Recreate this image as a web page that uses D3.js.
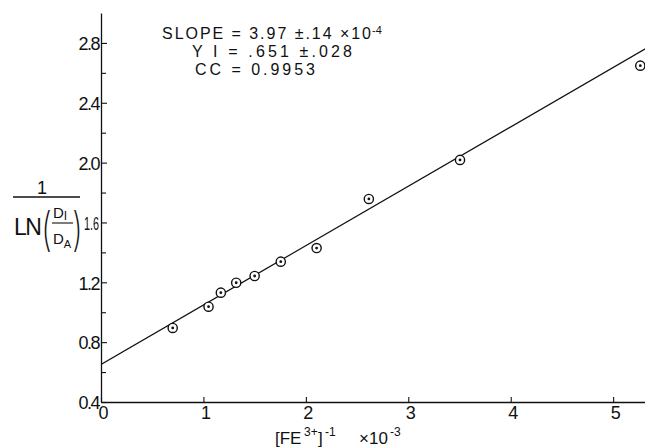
<!DOCTYPE html>
<html>
<head>
<meta charset="utf-8">
<script src="https://cdn.jsdelivr.net/npm/d3@7/dist/d3.min.js"></script>
<style>
  html, body { margin: 0; padding: 0; background: #fff; }
  svg { display: block; }
  text { font-family: "Liberation Sans", Arial, sans-serif; fill: #111; }
</style>
</head>
<body>
<svg id="chart" width="645" height="447"></svg>
<script>
// ---- data ----
const xValues = [0.70, 1.05, 1.17, 1.32, 1.50, 1.755, 2.105, 2.615, 3.505, 5.265];
const yValues = [0.895, 1.037, 1.131, 1.197, 1.242, 1.338, 1.429, 1.757, 2.018, 2.648];
const fitIntercept = 0.651;
const fitSlope = 0.397;           // 3.97e-4 per unit of 1e-3
const xTickValues = [0, 1, 2, 3, 4, 5];
const xTickLabels = ["0", "1", "2", "3", "4", "5"];
const yTickValues = [0.4, 0.8, 1.2, 1.6, 2.0, 2.4, 2.8];
const yTickLabels = ["0.4", "0.8", "1.2", "1.6", "2.0", "2.4", "2.8"];
const yMinorTicks = [0.6, 1.0, 1.4, 1.8, 2.2, 2.6];
const xDomain = [0, 5.35];
const yDomain = [0.4, 3.0];
const annotationLines = ["SLOPE = 3.97 ±.14  ×10", "Y I = .651 ±.028", "CC = 0.9953"];
const slopeExponent = "-4";

const svg = d3.select("#chart");
const W = 645, H = 447;
const mLeft = 101, mRight = 649, mBottom = 402, mTop = 13;

const x = d3.scaleLinear().domain(xDomain).range([mLeft, mRight]);
const y = d3.scaleLinear().domain(yDomain).range([mBottom, mTop]);

svg.append("rect").attr("width", W).attr("height", H).attr("fill", "#fff");

// ---- axes ----
const xAxis = d3.axisBottom(x)
  .tickValues(xTickValues)
  .tickFormat((d, i) => xTickLabels[i])
  .tickSize(-5).tickPadding(4).tickSizeOuter(0);
const gx = svg.append("g").attr("transform", `translate(0,${mBottom})`).call(xAxis);

const yAxis = d3.axisLeft(y)
  .tickValues(yTickValues)
  .tickFormat((d, i) => yTickLabels[i])
  .tickSize(-6).tickPadding(2).tickSizeOuter(0);
const gy = svg.append("g").attr("transform", `translate(${mLeft},0)`).call(yAxis);

const yMinor = d3.axisLeft(y).tickValues(yMinorTicks).tickFormat("").tickSize(-5).tickSizeOuter(0);
const gym = svg.append("g").attr("transform", `translate(${mLeft},0)`).call(yMinor);
gym.select(".domain").remove();

[gx, gy, gym].forEach(g => {
  g.selectAll(".domain").attr("stroke", "#111").attr("stroke-width", 1.3);
  g.selectAll(".tick line").attr("stroke", "#111").attr("stroke-width", 1.1);
  g.selectAll(".tick text").style("font-family", "'Liberation Sans', Arial, sans-serif")
    .style("font-size", "18px").attr("fill", "#111");
});
gy.selectAll(".tick text").attr("dy", "0.38em").attr("letter-spacing", "-1.5");
// the 1.6 label is squeezed next to the axis title in the reference
gy.selectAll(".tick text").filter(d => Math.abs(d - 1.6) < 1e-9)
  .attr("letter-spacing", null).attr("textLength", 15).attr("lengthAdjust", "spacingAndGlyphs");
gx.selectAll(".tick text").attr("dx", "2");

// ---- fit line ----
svg.append("clipPath").attr("id", "plotclip")
  .append("rect").attr("x", mLeft).attr("y", 0).attr("width", W - mLeft).attr("height", mBottom);
svg.append("line")
  .attr("clip-path", "url(#plotclip)")
  .attr("x1", x(xDomain[0])).attr("y1", y(fitIntercept + fitSlope * xDomain[0]))
  .attr("x2", x(xDomain[1])).attr("y2", y(fitIntercept + fitSlope * xDomain[1]))
  .attr("stroke", "#111").attr("stroke-width", 1.2);

// ---- points: circle with centre dot ----
const pts = svg.append("g").selectAll("g").data(xValues.map((v, i) => [v, yValues[i]])).join("g")
  .attr("transform", d => `translate(${x(d[0])},${y(d[1])})`);
pts.append("circle").attr("r", 4.6).attr("fill", "#fff").attr("stroke", "#111").attr("stroke-width", 1.4);
pts.append("circle").attr("r", 1.4).attr("fill", "#111");

// ---- annotation ----
const ann = svg.append("g").style("font-size", "16px");
const t1 = ann.append("text").attr("x", 162).attr("y", 39);
t1.append("tspan").attr("textLength", 209).attr("lengthAdjust", "spacing").text(annotationLines[0]);
t1.append("tspan").attr("x", 372).attr("dy", -5).style("font-size", "11px").text(slopeExponent);
ann.append("text").attr("x", 192).attr("y", 57)
  .attr("textLength", 160).attr("lengthAdjust", "spacing").text(annotationLines[1]);
ann.append("text").attr("x", 195).attr("y", 75)
  .attr("textLength", 120).attr("lengthAdjust", "spacing").text(annotationLines[2]);

// ---- x axis title ----
const xt = svg.append("g").style("font-size", "17px");
xt.append("text").attr("x", 275).attr("y", 444).text("[FE");
xt.append("text").attr("x", 304).attr("y", 436).style("font-size", "12px").text("3+");
xt.append("text").attr("x", 318).attr("y", 444).text("]");
xt.append("text").attr("x", 325).attr("y", 436).style("font-size", "12px").text("-1");
xt.append("text").attr("x", 359).attr("y", 444).text("×10");
xt.append("text").attr("x", 390).attr("y", 436).style("font-size", "12px").text("-3");

// ---- y axis title: 1 / LN(DI/DA) ----
const yl = svg.append("g");
yl.append("text").attr("x", 42).attr("y", 194).attr("text-anchor", "middle").style("font-size", "18px").text("1");
yl.append("line").attr("x1", 13).attr("x2", 80).attr("y1", 197).attr("y2", 197).attr("stroke", "#111").attr("stroke-width", 1.4);
yl.append("text").attr("x", 14).attr("y", 235).style("font-size", "23px").attr("letter-spacing", "-1.5").text("LN");
yl.append("text").attr("transform", "translate(41,246) scale(0.75,1.05)")
  .style("font-family", "Inter, 'DejaVu Sans', sans-serif").style("font-size", "44px").style("font-weight", "200").text("(");
yl.append("text").attr("transform", "translate(72,246) scale(0.75,1.05)")
  .style("font-family", "Inter, 'DejaVu Sans', sans-serif").style("font-size", "44px").style("font-weight", "200").text(")");
const dI = yl.append("text").attr("x", 53).attr("y", 218).style("font-size", "15px");
dI.append("tspan").text("D");
dI.append("tspan").attr("dy", 2).style("font-size", "12px").text("I");
yl.append("line").attr("x1", 52).attr("x2", 73).attr("y1", 223).attr("y2", 223).attr("stroke", "#111").attr("stroke-width", 1.1);
const dA = yl.append("text").attr("x", 53).attr("y", 244).style("font-size", "15px");
dA.append("tspan").text("D");
dA.append("tspan").attr("dy", 4).style("font-size", "11px").text("A");
</script>
</body>
</html>
